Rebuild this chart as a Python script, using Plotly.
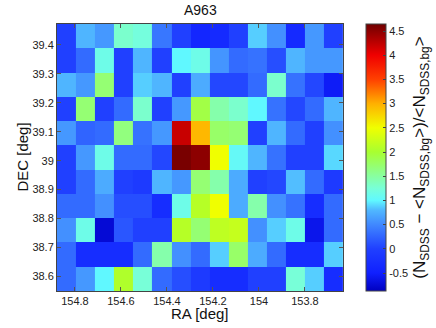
import plotly.graph_objects as go

# cell centres (RA decreasing left -> right, DEC decreasing top -> bottom)
RA = [154.837, 154.754, 154.671, 154.588, 154.505, 154.422, 154.339, 154.256,
      154.173, 154.090, 154.007, 153.924, 153.841, 153.759, 153.676]
DEC = [39.430, 39.346, 39.262, 39.179, 39.095, 39.011, 38.927, 38.843,
       38.760, 38.676, 38.592]

# overdensity, one row per DEC (top row first)
OVERDENSITY = [
    [0.00, 0.78, 0.60, 1.30, 1.22, 0.38, 0.00, -0.40, -0.35, 0.00, 0.87, 0.55, -0.35, 0.60, 0.00],
    [0.00, 0.30, 1.15, 0.00, 0.78, 0.00, 1.00, 1.15, 0.58, 0.30, 0.35, 0.10, 0.78, 0.60, 0.60],
    [0.78, 0.60, 1.70, 0.00, 0.87, 0.78, 0.00, 0.72, 0.05, 0.05, 0.30, 1.30, 0.35, 0.05, -0.55],
    [0.00, 1.70, 0.00, 0.30, 1.30, 0.00, 0.60, 1.90, 1.45, 1.30, 1.00, 0.35, 0.05, 0.30, 0.78],
    [0.60, 0.25, 0.30, 1.65, 0.35, 0.60, 4.20, 2.95, 1.75, 1.70, 0.00, 0.78, 0.30, 0.00, 0.55],
    [0.00, 0.60, 1.15, 0.30, 0.30, 0.05, 4.60, 4.50, 2.50, 1.05, 0.78, 0.35, 0.00, 0.00, 0.90],
    [0.00, 0.30, 0.72, 0.00, -0.10, 0.78, 0.60, 1.70, 1.45, 0.72, 0.00, 0.05, 0.82, 0.30, -0.10],
    [0.30, 0.30, 0.55, 0.10, 0.10, -0.30, 1.15, 2.10, 2.50, 0.72, 1.45, 0.55, 0.35, -0.30, 0.30],
    [0.55, 1.15, -0.75, 0.15, 0.00, 0.00, 2.10, 1.70, 2.15, 2.20, 0.55, 0.87, 1.15, -0.62, 0.30],
    [0.30, -0.30, -0.30, -0.30, 0.30, 1.45, 0.55, 0.30, 0.87, 1.75, 0.72, 0.30, -0.30, -0.30, 0.87],
    [0.30, 0.60, 1.00, 2.05, 1.25, 0.30, 0.10, -0.10, -0.30, -0.30, 0.00, 0.00, 1.25, 0.87, -0.30],
]

ZMIN, ZMAX = -0.872, 4.645

# jet-like map as it appears in the reference colour bar
JET_STOPS = [
    (-0.872, "#0000C0"), (-0.5, "#1020FF"), (0.0, "#2040FF"), (0.5, "#4088FF"),
    (0.8, "#50B8FF"), (1.0, "#60F8FF"), (1.25, "#78FFD8"), (1.5, "#88FFA0"),
    (2.0, "#A8FF30"), (2.5, "#F0FF00"), (3.0, "#FFB000"), (3.5, "#FF4000"),
    (4.0, "#F00000"), (4.645, "#700000"),
]
colorscale = [[(v - ZMIN) / (ZMAX - ZMIN), c] for v, c in JET_STOPS]

FONT = "Liberation Sans, Arial, sans-serif"

fig = go.Figure(go.Heatmap(
    x=RA, y=DEC[::-1], z=OVERDENSITY[::-1],
    colorscale=colorscale, zmin=ZMIN, zmax=ZMAX,
    colorbar=dict(
        x=1.08, xanchor="left", y=0.5, yanchor="middle", len=1.0,
        xpad=0, ypad=0, thickness=20, outlinewidth=1, outlinecolor="#444",
        tickvals=[-0.5, 0, 0.5, 1, 1.5, 2, 2.5, 3, 3.5, 4, 4.5],
        ticktext=["-0.5", "0", "0.5", "1", "1.5", "2", "2.5", "3", "3.5", "4", "4.5"],
        ticks="inside", ticklen=3, tickcolor="#444",
        tickfont=dict(size=11, color="#222"),
        title=dict(
            text="(N<sub>SDSS</sub> − &lt;N<sub>SDSS,bg</sub>&gt;)/&lt;N<sub>SDSS,bg</sub>&gt;",
            side="right", font=dict(size=17, color="#111"),
        ),
    ),
    hovertemplate="RA %{x}<br>DEC %{y}<br>%{z}<extra></extra>",
))

fig.update_layout(
    width=436, height=328,
    margin=dict(l=57, r=93, t=24, b=37, autoexpand=False),
    paper_bgcolor="white", plot_bgcolor="white",
    font=dict(family=FONT, color="#222"),
)
fig.update_xaxes(
    range=[154.878, 153.6345], tickvals=[154.8, 154.6, 154.4, 154.2, 154.0, 153.8],
    ticktext=["154.8", "154.6", "154.4", "154.2", "154", "153.8"],
    ticks="inside", ticklen=4, tickcolor="#555", mirror="ticks",
    showline=True, linecolor="#444", linewidth=1, showgrid=False, zeroline=False,
    tickfont=dict(size=11),
)
fig.update_yaxes(
    range=[38.550, 39.472], tickvals=[38.6, 38.7, 38.8, 38.9, 39.0, 39.1, 39.2, 39.3, 39.4],
    ticktext=["38.6", "38.7", "38.8", "38.9", "39", "39.1", "39.2", "39.3", "39.4"],
    ticks="inside", ticklen=4, tickcolor="#555", mirror="ticks",
    showline=True, linecolor="#444", linewidth=1, showgrid=False, zeroline=False,
    tickfont=dict(size=11),
)

# title and axis labels placed like the original figure
fig.add_annotation(text="A963", xref="paper", yref="paper", x=0.5, y=1.052,
                   yanchor="middle", showarrow=False, font=dict(size=14, color="#111"))
fig.add_annotation(text="RA [deg]", xref="paper", yref="paper", x=0.5, y=-0.086,
                   yanchor="middle", showarrow=False, font=dict(size=15, color="#111"))
fig.add_annotation(text="DEC [deg]", xref="paper", yref="paper", x=-0.122, y=0.5,
                   xanchor="center", yanchor="middle", textangle=-90, showarrow=False,
                   font=dict(size=15, color="#111"))

# drop the default page margin so the figure sits at the window corner
fig.write_html("out.html", config={"displayModeBar": False},
               post_script="document.body.style.margin='0';")
